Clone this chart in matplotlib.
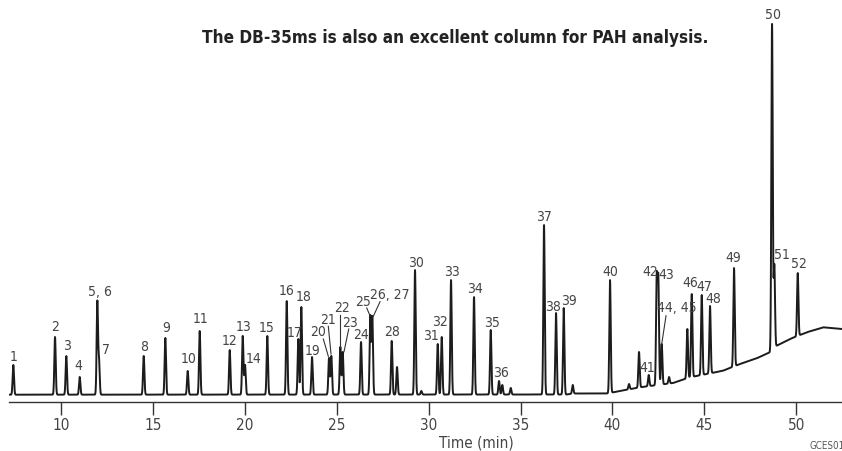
import numpy as np
import matplotlib
matplotlib.use("Agg")
import matplotlib.pyplot as plt

plt.rcParams['font.family'] = ['DejaVu Sans']
plt.rcParams['font.stretch'] = 'condensed'

# retention times (min) and apex heights (detector units, axis = 0)
peak_times = [7.405, 9.674, 10.288, 11.017, 11.975, 12.067, 14.499, 15.675, 16.893, 17.546,
              19.179, 19.886, 20.011, 21.224, 22.280, 22.911, 23.074, 23.656, 24.581, 24.706,
              25.196, 25.326, 26.322, 26.828, 26.937, 27.992, 28.281, 29.260, 29.603, 30.495,
              30.713, 31.219, 32.470, 33.379, 33.830, 34.010, 34.467, 36.278, 36.931, 37.350,
              37.840, 39.869, 40.903, 41.447, 41.975, 42.410, 42.497, 42.682, 43.080, 44.075,
              44.315, 44.859, 45.310, 46.616, 48.684, 48.808, 50.082]
peak_tops = [37, 65, 46, 25, 100, 41, 46, 64, 31, 71,
             52, 66, 37, 66, 101, 63, 95, 45, 44, 46,
             55, 50, 60, 86, 85, 61, 35, 132, 11, 58,
             65, 122, 105, 72, 21, 17, 14, 177, 89, 94,
             17, 122, 18, 50, 27, 123, 121, 58, 25, 73,
             108, 107, 96, 134, 378, 137, 129]

# baseline drift
base_t = [7.17, 37.5, 37.86, 39.69, 41.5, 43.3, 44.22, 45.13, 46.02, 46.94, 47.85, 48.57,
          48.94, 49.66, 50.57, 51.47, 52.49]
base_h = [7.3, 7.5, 8.5, 8.5, 14.7, 19.0, 24.7, 28.0, 31.3, 38.0, 43.7, 49.7,
          56.3, 63.0, 69.7, 74.7, 73.0]

# peak labels
label_text = ["1", "2", "3", "4", "5, 6", "7", "8", "9", "10", "11", "12", "13", "14", "15",
              "16", "17", "18", "19", "20", "21", "22", "23", "24", "25", "26, 27", "28",
              "30", "31", "32", "33", "34", "35", "36", "37", "38", "39", "40", "41", "42",
              "43", "44, 45", "46", "47", "48", "49", "50", "51", "52"]
label_t = [7.405, 9.674, 10.31, 10.963, 12.122, 12.448, 14.499, 15.729, 16.948, 17.579,
           19.195, 19.918, 20.462, 21.191, 22.280, 22.731, 23.183, 23.673, 23.999, 24.543,
           25.272, 25.724, 26.322, 26.447, 27.9, 28.025, 29.298, 30.147, 30.620, 31.257,
           32.524, 33.433, 33.923, 36.278, 36.784, 37.655, 39.869, 41.92, 42.045, 42.916,
           43.515, 44.222, 44.984, 45.490, 46.578, 48.722, 49.211, 50.169]
label_h = [46.3, 76, 57.3, 37.3, 110.7, 53, 55.7, 75.3, 44.3, 84,
           62.3, 75.7, 44, 75.3, 112, 70.3, 105.7, 52, 71, 83,
           95, 79.7, 68, 101.3, 108, 71, 140.3, 67, 81.3, 131.3,
           113.7, 80.3, 29.7, 186, 96.3, 102, 131.3, 34.7, 131, 128,
           94.7, 119.7, 116.3, 103.7, 144.7, 388, 148, 139]

# leader lines (t0, h0, t1, h1)
leaders = [(24.271, 63, 24.543, 45.7),
           (24.543, 75.7, 24.690, 48),
           (25.196, 87, 25.196, 54.7),
           (25.653, 73, 25.397, 50.3),
           (26.632, 94, 26.812, 86.3),
           (27.356, 100.3, 26.991, 85.7),
           (42.916, 86.3, 42.682, 58)]

sigma = 0.037
t = np.linspace(7.17, 52.49, 12000)
y = np.interp(t, base_t, base_h)
for pt, ph in zip(peak_times, peak_tops):
    amp = ph - np.interp(pt, base_t, base_h)
    y = y + amp * np.exp(-0.5 * ((t - pt) / sigma) ** 2)

fig = plt.figure(figsize=(8.42, 4.52), dpi=100)
ax = fig.add_axes([9 / 842, 49 / 452, 833 / 842, 403 / 452])
ax.plot(t, y, color='#1c1c1c', lw=1.4)
ax.set_xlim(7.17, 52.49)
ax.set_ylim(0, 403)

for s in ['left', 'top', 'right']:
    ax.spines[s].set_visible(False)
ax.spines['bottom'].set_color('#333333')
ax.spines['bottom'].set_linewidth(1.0)
ax.set_yticks([])
ax.set_xticks([10, 15, 20, 25, 30, 35, 40, 45, 50])
ax.tick_params(axis='x', direction='out', length=9, width=1.0, color='#333333',
               labelsize=11, labelcolor='#444444', pad=2)

for txt, lt, lh in zip(label_text, label_t, label_h):
    ax.text(lt, lh, txt, ha='center', va='center', fontsize=10, color='#444444')
for x0, y0, x1, y1 in leaders:
    ax.plot([x0, x1], [y0, y1], color='#333333', lw=0.8)

fig.text(455 / 842, 1 - 42.7 / 452, "The DB-35ms is also an excellent column for PAH analysis.",
         ha='center', va='baseline', fontsize=12.3, fontweight='bold', color='#222222')
fig.text(476.7 / 842, 1 - 442.7 / 452, "Time (min)", ha='center', va='center',
         fontsize=11, color='#444444')
fig.text(809 / 842, 1 - 446 / 452, "GCES018", ha='left', va='center',
         fontsize=7, color='#555555')

fig.savefig("out.png", dpi=100)
